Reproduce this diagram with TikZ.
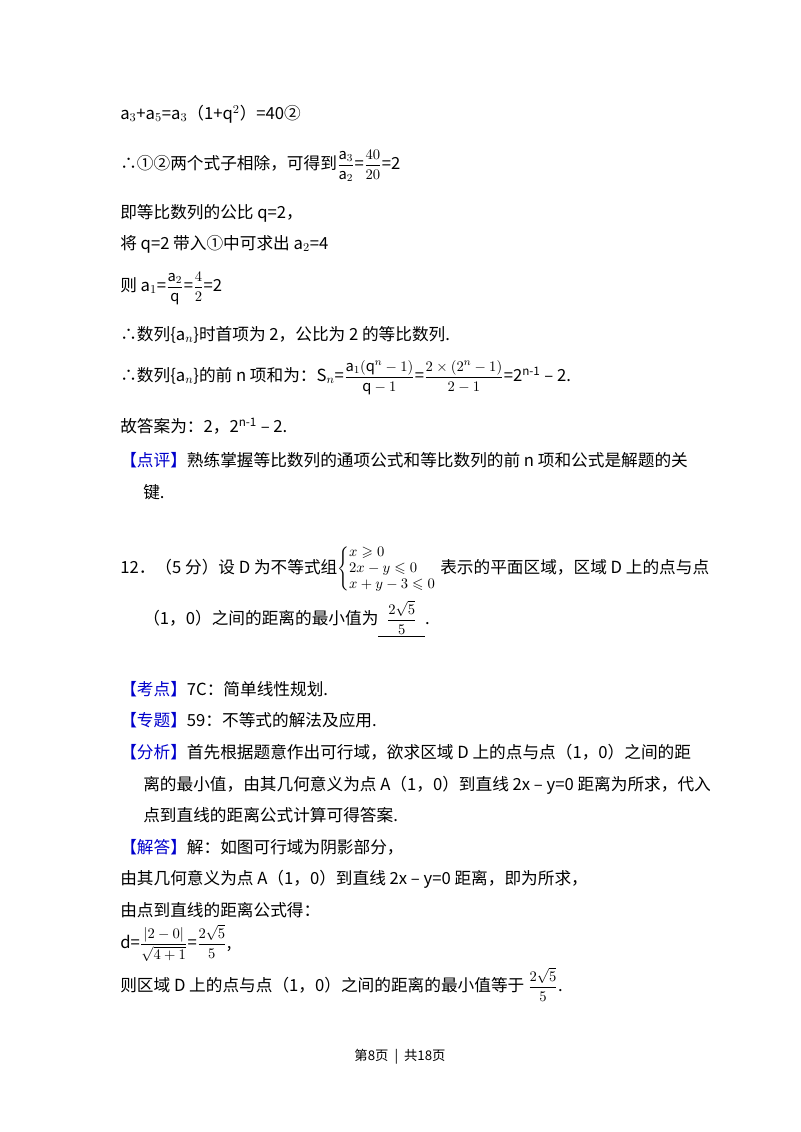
\documentclass[tikz,border=0pt]{standalone}
\usepackage{amsmath,amssymb}
\usepackage{fontspec}
\setmainfont{Noto Sans CJK SC}
\tikzset{t/.style={anchor=base west,inner sep=0pt,font=\fontsize{12.5pt}{15pt}\selectfont}}
\newcommand{\bluetag}[1]{\textcolor{blue!80!black}{【#1】}}
\newcommand{\fr}[2]{{\fontsize{11pt}{13pt}\selectfont$\dfrac{#1}{#2}$}}
\begin{document}
\begin{tikzpicture}[x=0.75pt,y=-0.75pt]
\useasboundingbox[fill=white] (0,0) rectangle (800,1132);
\node[t] (l1) at (120,119) {a$_3$+a$_5$=a$_3$（1+q$^2$）=40②};
\node[t] (l2) at (120,169) {∴①②两个式子相除，可得到\fr{\mathrm{a}_3}{\mathrm{a}_2}=\fr{40}{20}=2};
\node[t] (l3) at (120,218) {即等比数列的公比 q=2，};
\node[t] (l4) at (120,249) {将 q=2 带入①中可求出 a$_2$=4};
\node[t] (l5) at (120,291) {则 a$_1$=\fr{\mathrm{a}_2}{\mathrm{q}}=\fr{4}{2}=2};
\node[t] (l6) at (120,340) {∴数列\{a$_n$\}时首项为 2，公比为 2 的等比数列.};
\node[t] (l7) at (120,381) {∴数列\{a$_n$\}的前 n 项和为：S$_n$=\fr{\mathrm{a}_1(\mathrm{q}^n-1)}{\mathrm{q}-1}=\fr{2\times(2^n-1)}{2-1}=2$^{\text{n-1}}$ – 2.};
\node[t] (l8) at (120,432) {故答案为：2，2$^{\text{n-1}}$ – 2.};
\node[t] (l9) at (120,466) {\bluetag{点评}熟练掌握等比数列的通项公式和等比数列的前 n 项和公式是解题的关};
\node[t] (l10) at (143,498) {键.};
\node[t] (l11) at (120,573) {12．（5 分）设 D 为不等式组{\fontsize{11pt}{12pt}\selectfont$\left\{\begin{array}{@{}l@{}}x\geqslant0\\2x-y\leqslant0\\x+y-3\leqslant0\end{array}\right.$} 表示的平面区域，区域 D 上的点与点};
\node[t] (l12) at (143,624) {（1，0）之间的距离的最小值为\underline{\hspace{0.5em}\fr{2\sqrt5}{5}\hspace{0.5em}}.};
\node[t] (l13) at (120,695) {\bluetag{考点}7C：简单线性规划.};
\node[t] (l14) at (120,726) {\bluetag{专题}59：不等式的解法及应用.};
\node[t] (l15) at (120,758) {\bluetag{分析}首先根据题意作出可行域，欲求区域 D 上的点与点（1，0）之间的距};
\node[t] (l16) at (143,790) {离的最小值，由其几何意义为点 A（1，0）到直线 2x – y=0 距离为所求，代入};
\node[t] (l17) at (143,821) {点到直线的距离公式计算可得答案.};
\node[t] (l18) at (120,853) {\bluetag{解答}解：如图可行域为阴影部分，};
\node[t] (l19) at (120,884) {由其几何意义为点 A（1，0）到直线 2x – y=0 距离，即为所求，};
\node[t] (l20) at (120,916) {由点到直线的距离公式得：};
\node[t] (l21) at (120,948) {d=\fr{|2-0|}{\sqrt{4+1}}=\fr{2\sqrt5}{5},};
\node[t] (l22) at (120,991) {则区域 D 上的点与点（1，0）之间的距离的最小值等于 \fr{2\sqrt5}{5}.};
\node[anchor=base,inner sep=0pt,font=\fontsize{10pt}{12pt}\selectfont] (ft) at (400,1060) {第8页 \ \textbar\ \ 共18页};
\end{tikzpicture}
\end{document}
